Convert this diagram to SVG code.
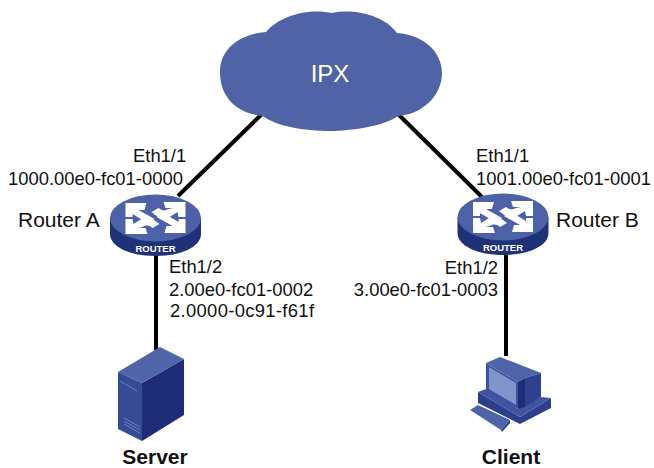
<svg xmlns="http://www.w3.org/2000/svg" width="654" height="468" viewBox="0 0 654 468">
<style>
text{font-family:"Liberation Sans",Arial,sans-serif;font-size:18.400px;fill:#111}
.b{font-weight:bold;font-size:21px}
.n{font-size:21px}
.l{stroke:#000;stroke-width:4;fill:none}
</style>
<defs>
<g id="router">
<path d="M-45.500 0V16C-45.500 29 -25 38 0 38S45.500 29 45.500 16V0Z" fill="#1f3278"/>
<ellipse cx="0" cy="0" rx="45.500" ry="23.500" fill="#4d61a8"/>
<path id="a1" fill="#fff" d="M-30-15H-9L-11-8H-17L-1 1-8 5-23-4V-1H-30Z"/>
<path id="a2" fill="#fff" d="M30-16V-1H23L22-6 14-1C9 2 4 1-4-6L3-10C7-7 9-7 13-9L18-10H10L8-16Z"/>
<use href="#a1" transform="rotate(180)"/>
<use href="#a2" transform="rotate(180)"/>
<text x="0" y="33.500" text-anchor="middle" style="font-size:9.500px;font-weight:bold;fill:#fff">ROUTER</text>
</g>
</defs>
<g id="connectors">
<path class="l" d="M262 114 178 196"/>
<path class="l" d="M399 115 482 197"/>
<path class="l" d="M156 255V350"/>
<path class="l" d="M506 255V356"/>
</g>
<g id="cloud">
<path fill="#4f63a6" d="M266 32C280 15 310 8 332 13C355 8 385 16 397 33C425 35 442 53 442 73C442 97 420 115 398 116C385 126 350 131 330 131C305 131 275 126 263 116C240 114 220 100 220 72C220 50 238 34 266 32Z"/>
<text x="330" y="82" text-anchor="middle" style="font-size:24px;fill:#fff">IPX</text>
</g>
<g id="router-a"><use href="#router" x="155.500" y="218"/>
<text x="133" y="162">Eth1/1</text>
<text x="8" y="185">1000.00e0-fc01-0000</text>
<text class="n" x="18" y="227">Router A</text>
<text x="169" y="273">Eth1/2</text>
<text x="169" y="296">2.00e0-fc01-0002</text>
</g>
<g id="router-b"><use href="#router" x="503" y="217"/>
<text x="476" y="162">Eth1/1</text>
<text x="476" y="185">1001.00e0-fc01-0001</text>
<text class="n" x="556" y="227">Router B</text>
<text x="498" y="274" text-anchor="end">Eth1/2</text>
<text x="498" y="296" text-anchor="end">3.00e0-fc01-0003</text>
</g>
<g id="server">
<path fill="#1f2c78" d="M142 383 184 359V415L142 441Z"/>
<path fill="#5065a8" d="M118 372 160 347 184 359 142 383Z"/>
<path fill="#374a96" d="M118 372 142 383V441L118 429Z"/>
<path d="M120 381 137 391M124 418 140 427M124 421 140 430M124 424 140 433" stroke="#6c7fbd" stroke-width="1"/>
<text x="170" y="317" textLength="144">2.0000-0c91-f61f</text>
<text class="b" x="155" y="464" text-anchor="middle">Server</text>
</g>
<g id="client">
<path fill="#2c3e8e" d="M478 392 520 417 551 398V408L520 424 478 403Z"/>
<path fill="#41549f" d="M478 392 486 389 518 409 541 397 551 398 520 417Z"/>
<path fill="#4f63a8" d="M470 410 478 405 510 420 501 430Z"/>
<path fill="#2c3e8e" d="M501 430 510 420V423L502 432Z"/>
<path fill="#3f52a2" d="M486 363 518 382V409L486 392Z"/>
<path fill="#4f63a8" d="M486 363 500 357 541 373 525 378 518 382Z"/>
<path fill="#1f2c78" d="M518 382 525 378V407L518 409Z"/>
<path fill="#2f4090" d="M525 378 541 373V397L525 407Z"/>
<path fill="#8194cc" d="M489 367 516 383V405L489 389Z"/>
<text class="b" x="511" y="464" text-anchor="middle">Client</text>
</g>
</svg>
